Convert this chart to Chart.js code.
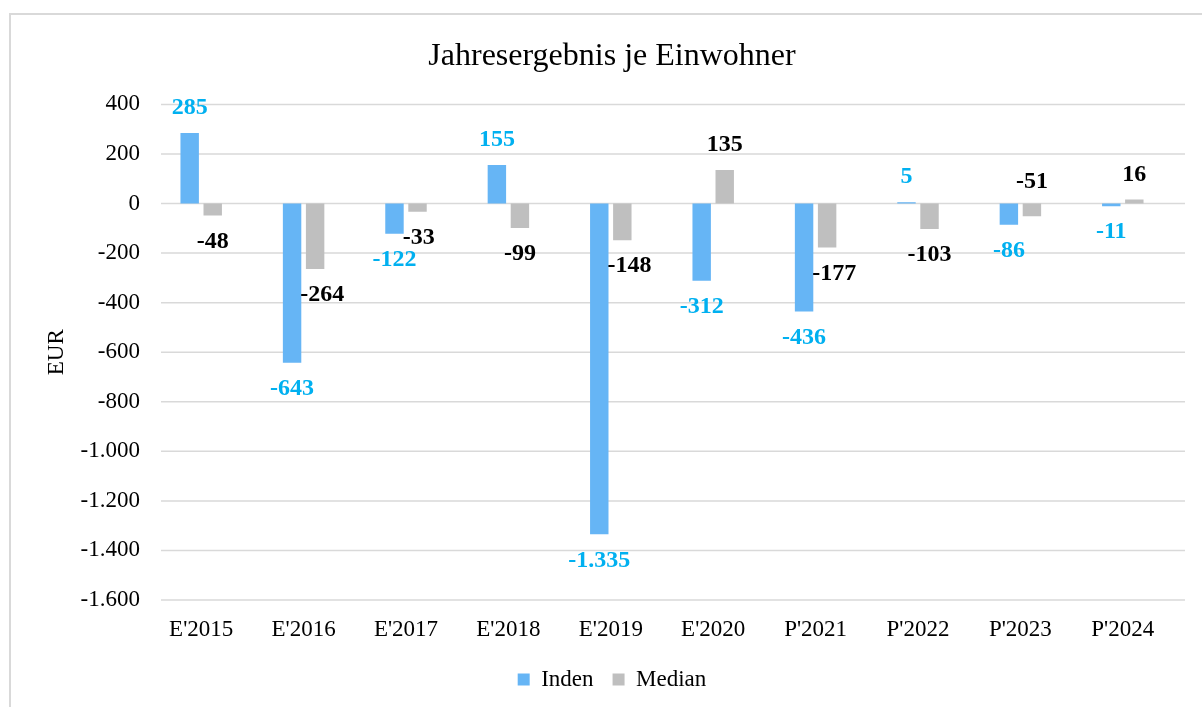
<!DOCTYPE html>
<html>
<head>
<meta charset="utf-8">
<script src="https://cdn.jsdelivr.net/npm/chart.js@4"></script>
<style>
    body { margin: 0; background: #fff; }
    #rahmen {
        position: absolute; left: 9px; top: 13px; width: 1200px; height: 710px;
        border: 2px solid #d9d9d9; box-sizing: border-box;
    }
    #statsChart { position: absolute; left: 0; top: 0; }
</style>
</head>
<body>
<div id="rahmen"></div>
<canvas id="statsChart" width="1202" height="707"></canvas>
<script>
const kategorien = ["E'2015", "E'2016", "E'2017", "E'2018", "E'2019", "E'2020", "P'2021", "P'2022", "P'2023", "P'2024"];
const werteInden = [285, -643, -122, 155, -1335, -312, -436, 5, -86, -11];
const werteMedian = [-48, -264, -33, -99, -148, 135, -177, -103, -51, 16];
const yTicks = [400, 200, 0, -200, -400, -600, -800, -1000, -1200, -1400, -1600];

const schrift = "'Liberation Serif', 'Times New Roman', serif";
const format = v => v.toLocaleString('de-DE');
const versatz = 11; // Gitternetz in Excel leicht nach rechts versetzt

// Gitternetzlinien wie im Original, etwas rechts vom Kategorienbereich
const gitter = {
    id: 'gitter',
    beforeDatasetsDraw(chart) {
        const { ctx: c, chartArea: a } = chart;
        const y = chart.scales.y;
        c.save();
        c.strokeStyle = '#d9d9d9';
        c.lineWidth = 1.5;
        yTicks.forEach(v => {
            const py = y.getPixelForValue(v);
            c.beginPath();
            c.moveTo(a.left + versatz, py);
            c.lineTo(a.right + versatz, py);
            c.stroke();
        });
        c.restore();
    }
};

// Titel und Legende wie im Original leicht rechts der Mitte
const verschieben = {
    id: 'verschieben',
    afterLayout(chart) {
        if (chart.titleBlock) { chart.titleBlock.left += 20; chart.titleBlock.right += 20; }
        if (chart.legend) { chart.legend.left += 20; chart.legend.right += 20; }
    }
};

// Excel-artige Datenbeschriftungen ausserhalb des Balkenendes
const beschriftung = {
    id: 'beschriftung',
    afterDatasetsDraw(chart) {
        const c = chart.ctx;
        const nullLinie = chart.scales.y.getPixelForValue(0);
        const indenBars = chart.getDatasetMeta(0).data;
        c.save();
        c.font = "bold 24px " + schrift;
        c.textAlign = 'center';
        c.textBaseline = 'middle';
        const belegt = [];
        chart.data.datasets.forEach((ds, i) => {
            const meta = chart.getDatasetMeta(i);
            c.fillStyle = ds.labelColor;
            meta.data.forEach((bar, j) => {
                const v = ds.data[j];
                const text = format(v);
                const w = c.measureText(text).width;
                let x = bar.x;
                let y = v >= 0 ? bar.y - 25 : bar.y + 26;
                const kollision = belegt.some(b =>
                    Math.abs(b.x - x) < (b.w + w) / 2 && Math.abs(b.y - y) < 20);
                if (kollision) y = nullLinie - 22;
                if (i === 1 && v < 0 && y > nullLinie) {
                    // nicht ueber den Nachbarbalken schreiben
                    const nb = indenBars[j];
                    const rechts = nb.x + nb.width / 2;
                    if (werteInden[j] < 0 && nb.y > y - 12 && x - w / 2 < rechts) {
                        x = rechts + w / 2 - 1;
                    }
                }
                belegt.push({ x, y, w });
                c.fillText(text, x, y);
            });
        });
        c.restore();
    }
};

const ctx = document.getElementById('statsChart').getContext('2d');
const statsChart = new Chart(ctx, {
    type: 'bar',
    data: {
        labels: kategorien,
        datasets: [
            {
                label: 'Inden',
                data: werteInden,
                backgroundColor: '#66b5f5',
                labelColor: '#00b0f0'
            },
            {
                label: 'Median',
                data: werteMedian,
                backgroundColor: '#bfbfbf',
                labelColor: '#000000'
            }
        ]
    },
    options: {
        responsive: false,
        animation: false,
        categoryPercentage: 0.45,
        barPercentage: 0.8,
        layout: { padding: { left: 10, right: 28, top: 14, bottom: 6 } },
        scales: {
            x: {
                grid: { display: false, drawTicks: false },
                border: { display: false },
                ticks: { color: '#000', font: { family: schrift, size: 23 }, padding: 16 },
                afterFit: s => { s.height = 49; }
            },
            y: {
                min: -1600,
                max: 400,
                afterBuildTicks: s => { s.ticks = yTicks.map(v => ({ value: v })); },
                grid: { display: false, drawTicks: false },
                border: { display: false },
                ticks: {
                    color: '#000',
                    font: { family: schrift, size: 23 },
                    padding: 10,
                    callback: v => format(v)
                },
                title: {
                    display: true,
                    text: 'EUR',
                    color: '#000',
                    font: { family: schrift, size: 23 },
                    padding: { top: 33, bottom: 0 }
                },
                afterFit: s => { s.width = 140; }
            }
        },
        plugins: {
            title: {
                display: true,
                text: 'Jahresergebnis je Einwohner',
                color: '#000',
                font: { family: schrift, size: 32, weight: 'normal' },
                padding: { top: 23, bottom: 29 }
            },
            legend: {
                position: 'bottom',
                labels: {
                    color: '#000',
                    font: { family: schrift, size: 23 },
                    boxWidth: 12,
                    boxHeight: 12,
                    padding: 19
                }
            },
            tooltip: { enabled: false }
        }
    },
    plugins: [gitter, verschieben, beschriftung]
});
</script>
</body>
</html>
